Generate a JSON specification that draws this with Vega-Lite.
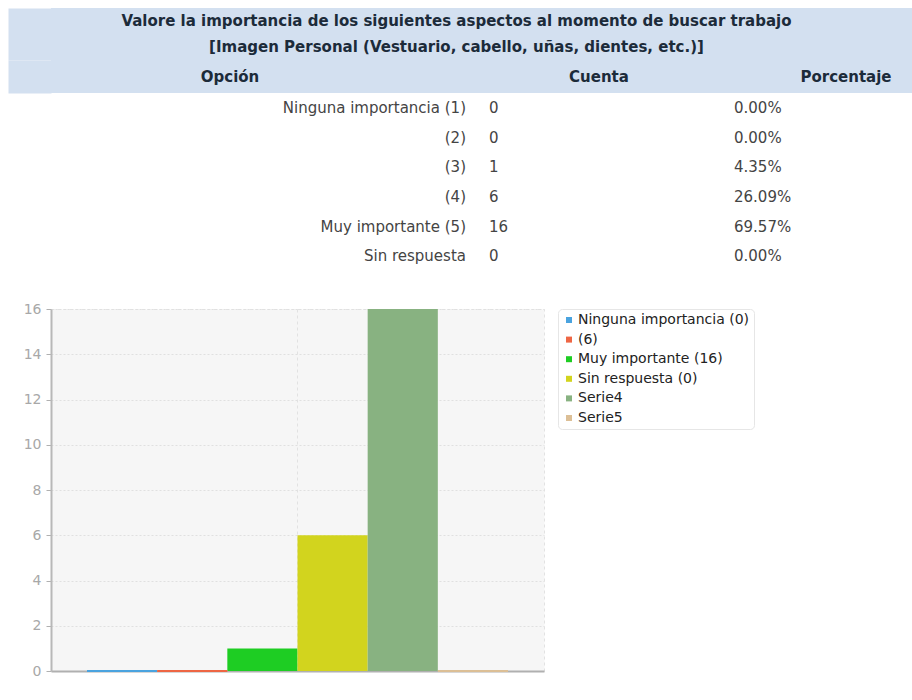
{
  "$schema": "https://vega.github.io/schema/vega-lite/v6.json",
  "padding": {"left": 7, "top": 8, "right": 0, "bottom": 0},
  "background": "white",
  "spacing": 30,
  "config": {
    "view": {"stroke": null},
    "font": "DejaVu Sans"
  },
  "vconcat": [
    {
      "spacing": 0,
      "vconcat": [
        {
          "width": 862,
          "height": 52,
          "view": {"fill": "#d3e0f0", "stroke": null},
          "data": {"values": [
            {"linea": 1, "titulo": "Valore la importancia de los siguientes aspectos al momento de buscar trabajo"},
            {"linea": 2, "titulo": "[Imagen Personal (Vestuario, cabello, uñas, dientes, etc.)]"}
          ]},
          "mark": {"type": "text", "font": "DejaVu Sans", "fontWeight": "bold", "fontSize": 15, "color": "#1c2b3a", "baseline": "middle", "align": "center"},
          "encoding": {
            "x": {"datum": 1, "type": "quantitative", "scale": {"domain": [0, 2], "range": [0, 811], "nice": false, "zero": false}, "axis": null},
            "y": {"field": "linea", "type": "ordinal", "scale": {"paddingInner": 0, "paddingOuter": 0.17},
                  "axis": {"title": null, "labels": false, "ticks": false, "domain": true, "domainColor": "#d3e0f0", "domainWidth": 43, "domainCap": "butt", "offset": 21.5, "minExtent": 0}},
            "text": {"field": "titulo"}
          }
        },
        {
          "width": 862,
          "height": 33,
          "view": {"fill": "#d3e0f0", "stroke": null},
          "data": {"values": [
            {"fila": "encabezado", "col": 0, "encabezado": "Opción"},
            {"fila": "encabezado", "col": 1, "encabezado": "Cuenta"},
            {"fila": "encabezado", "col": 2, "encabezado": "Porcentaje"}
          ]},
          "mark": {"type": "text", "font": "DejaVu Sans", "fontWeight": "bold", "fontSize": 15, "color": "#1c2b3a", "baseline": "middle", "align": "center"},
          "encoding": {
            "x": {"field": "col", "type": "quantitative", "scale": {"domain": [0, 1, 2], "range": [179, 548, 795], "nice": false, "zero": false}, "axis": null},
            "y": {"field": "fila", "type": "nominal", "scale": {"paddingInner": 0, "paddingOuter": 0},
                  "axis": {"title": null, "labels": false, "ticks": false, "domain": true, "domainColor": "#d3e0f0", "domainWidth": 43, "domainCap": "butt", "offset": 21.5, "minExtent": 0}},
            "text": {"field": "encabezado"}
          }
        },
        {
          "width": 862,
          "height": 178,
          "data": {"values": [
            {"opcion": "Ninguna importancia (1)", "cuenta": "0", "porcentaje": "0.00%"},
            {"opcion": "(2)", "cuenta": "0", "porcentaje": "0.00%"},
            {"opcion": "(3)", "cuenta": "1", "porcentaje": "4.35%"},
            {"opcion": "(4)", "cuenta": "6", "porcentaje": "26.09%"},
            {"opcion": "Muy importante (5)", "cuenta": "16", "porcentaje": "69.57%"},
            {"opcion": "Sin respuesta", "cuenta": "0", "porcentaje": "0.00%"}
          ]},
          "encoding": {
            "y": {"field": "opcion", "type": "nominal", "sort": null, "scale": {"paddingInner": 0, "paddingOuter": 0},
                  "axis": {"title": null, "labels": false, "ticks": false, "domain": false, "minExtent": 43}}
          },
          "layer": [
            {
              "mark": {"type": "text", "font": "DejaVu Sans", "fontSize": 15, "color": "#444444", "align": "right", "baseline": "middle"},
              "encoding": {
                "x": {"datum": 0, "type": "quantitative", "scale": {"domain": [0, 1, 2], "range": [415, 438, 683], "nice": false, "zero": false}, "axis": null},
                "text": {"field": "opcion"}
              }
            },
            {
              "mark": {"type": "text", "font": "DejaVu Sans", "fontSize": 15, "color": "#444444", "align": "left", "baseline": "middle"},
              "encoding": {
                "x": {"datum": 1, "type": "quantitative"},
                "text": {"field": "cuenta"}
              }
            },
            {
              "mark": {"type": "text", "font": "DejaVu Sans", "fontSize": 15, "color": "#444444", "align": "left", "baseline": "middle"},
              "encoding": {
                "x": {"datum": 2, "type": "quantitative"},
                "text": {"field": "porcentaje"}
              }
            }
          ]
        }
      ]
    },
    {
      "width": 493,
      "height": 362,
      "view": {"fill": "#f6f6f6", "stroke": "#e2e2e2", "strokeDash": [3, 3]},
      "data": {"values": [
        {"grupo": "A", "serie": "Ninguna importancia (0)", "valor": 0},
        {"grupo": "A", "serie": " (6)", "valor": 0},
        {"grupo": "A", "serie": "Muy importante (16)", "valor": 1},
        {"grupo": "A", "serie": "Sin respuesta (0)", "valor": 6},
        {"grupo": "A", "serie": "Serie4", "valor": 16},
        {"grupo": "A", "serie": "Serie5", "valor": 0}
      ]},
      "encoding": {
        "x": {
          "field": "grupo", "type": "nominal",
          "scale": {"paddingInner": 0, "paddingOuter": 0.0855},
          "axis": {"labels": false, "ticks": false, "title": null, "grid": true, "gridColor": "#e2e2e2", "gridDash": [3, 3], "domainColor": "#b0b0b0", "domainWidth": 2}
        },
        "xOffset": {"field": "serie", "type": "nominal", "sort": null, "scale": {"paddingInner": 0, "paddingOuter": 0}},
        "y": {
          "field": "valor", "type": "quantitative",
          "scale": {"domain": [0, 16], "nice": false},
          "axis": {"values": [0, 2, 4, 6, 8, 10, 12, 14, 16], "title": null, "labelColor": "#a8a8a8", "labelFont": "DejaVu Sans", "labelFontSize": 14, "tickColor": "#b0b0b0", "tickSize": 5, "labelPadding": 5, "domainColor": "#b8b8b8", "domainWidth": 2, "gridColor": "#e0e0e0", "gridDash": [2, 2], "minExtent": 43}
        }
      },
      "layer": [
        {
          "mark": {"type": "bar"},
          "encoding": {
            "color": {
              "field": "serie", "type": "nominal", "sort": null,
              "scale": {
                "domain": ["Ninguna importancia (0)", " (6)", "Muy importante (16)", "Sin respuesta (0)", "Serie4", "Serie5"],
                "range": ["#4aa3df", "#ee6644", "#1ecd23", "#d2d41e", "#88b281", "#dcbf96"]
              },
              "legend": {
                "title": null, "orient": "right", "offset": 14, "symbolType": "square", "symbolSize": 36, "symbolStrokeWidth": 0,
                "labelFont": "DejaVu Sans", "labelFontSize": 14, "labelColor": "#222222", "labelOffset": 2, "labelLimit": 300,
                "fillColor": "white", "strokeColor": "#e6e6e6", "cornerRadius": 4, "padding": 4, "rowPadding": 5.6
              }
            }
          }
        },
        {
          "transform": [{"filter": "datum.valor == 0"}],
          "mark": {"type": "bar", "filled": false, "strokeWidth": 2},
          "encoding": {
            "color": {"field": "serie", "type": "nominal", "sort": null, "legend": null}
          }
        }
      ],
      "resolve": {"legend": {"color": "independent"}}
    }
  ]
}
